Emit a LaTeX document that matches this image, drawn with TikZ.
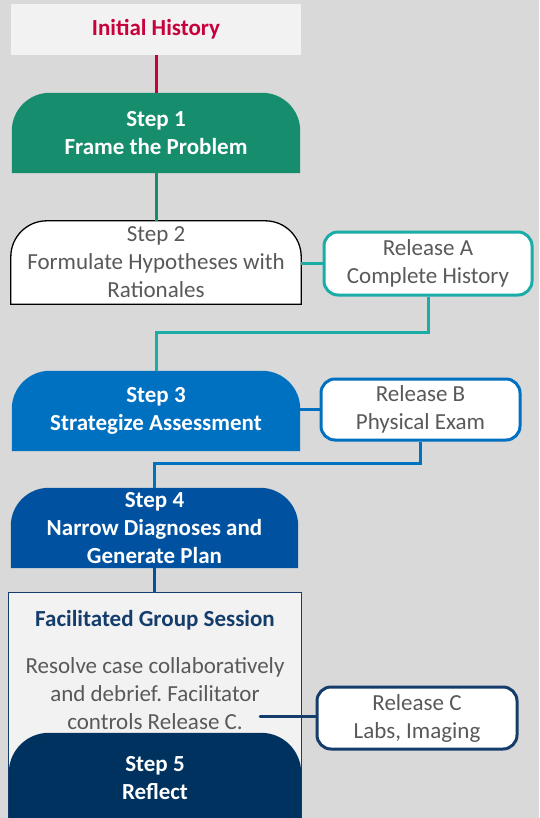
\documentclass[tikz,border=0pt]{standalone}
\usepackage{fontspec}
\setmainfont{Carlito}
\frenchspacing
\pgfdeclarelayer{bg}
\pgfdeclarelayer{mid}
\pgfsetlayers{bg,mid,main}
\definecolor{bgray}{HTML}{D9D9D9}
\definecolor{lgray}{HTML}{F2F2F2}
\definecolor{crim}{HTML}{C8003C}
\definecolor{sgreen}{HTML}{168E6E}
\definecolor{teal}{HTML}{1AADA8}
\definecolor{sblue}{HTML}{0070C0}
\definecolor{dblue}{HTML}{0052A0}
\definecolor{navy}{HTML}{00325F}
\definecolor{navyb}{HTML}{153D6B}
\definecolor{tgray}{HTML}{595959}
\tikzset{
  box/.style={inner sep=0pt, align=center, font=\fontsize{23}{28}\selectfont},
  stepbox/.style={box, text=white, font=\fontsize{23}{28}\selectfont\bfseries},
  relbox/.style={box, draw, line width=3pt, fill=white, rounded corners=14pt, text=tgray},
  conn/.style={line width=3pt},
}
\newcommand{\topround}[3]{% node, style, radius
  \begin{pgfonlayer}{mid}
  \path[#2] (#1.south west) [rounded corners=#3] -- (#1.north west) -- (#1.north east) [sharp corners] -- (#1.south east) -- cycle;
  \end{pgfonlayer}}
\begin{document}
\begin{tikzpicture}[x=1pt,y=1pt]
\begin{pgfonlayer}{bg}
\fill[bgray] (0,0) rectangle (539,-818);
\end{pgfonlayer}
\useasboundingbox (0,0) rectangle (539,-818);

\node[box, fill=lgray, minimum width=290pt, minimum height=51pt, text=crim, font=\fontsize{23}{28}\selectfont\bfseries] (init) at (156,-29.5) {Initial History};

\node[stepbox, minimum width=288pt, minimum height=80pt] (s1) at (156,-133) {Step 1\\Frame the Problem};
\topround{s1}{fill=sgreen}{38pt}

\node[box, text=tgray, minimum width=290pt, minimum height=83pt] (s2) at (156,-262.5) {Step 2\\Formulate Hypotheses with\\Rationales};
\topround{s2}{fill=white, draw=black, line width=1.3pt}{36pt}

\node[relbox, draw=teal, minimum width=208pt, minimum height=63pt] (relA) at (428,-263.5) {Release A\\Complete History};

\node[stepbox, minimum width=288pt, minimum height=80pt] (s3) at (156,-411) {Step 3\\Strategize Assessment};
\topround{s3}{fill=sblue}{38pt}

\node[relbox, draw=sblue, minimum width=199pt, minimum height=61pt] (relB) at (420.5,-409.5) {Release B\\Physical Exam};

\node[stepbox, minimum width=287pt, minimum height=80pt] (s4) at (154.5,-528) {Step 4\\Narrow Diagnoses and\\Generate Plan};
\topround{s4}{fill=dblue}{38pt}

\node[box, minimum width=292pt, minimum height=230pt] (fac) at (155,-708) {};
\begin{pgfonlayer}{mid}
\path[draw=navyb, line width=1.3pt, fill=lgray] (fac.south west) rectangle (fac.north east);
\end{pgfonlayer}
\node[box, text=navyb, font=\fontsize{23}{28}\selectfont\bfseries] (factitle) at (155,-620) {Facilitated Group Session};
\node[box, text=tgray] (facbody) at (155,-694) {Resolve case collaboratively\\and debrief. Facilitator\\controls Release C.};

\node[stepbox, minimum width=292pt, minimum height=90pt] (s5) at (155,-778) {Step 5\\Reflect};
\topround{s5}{fill=navy}{40pt}

\node[relbox, draw=navyb, minimum width=200pt, minimum height=62pt] (relC) at (417,-718) {Release C\\Labs, Imaging};

% connectors
\draw[conn, crim] (init.south) -- (s1.north);
\draw[conn, sgreen] (s1.south) -- (s2.north);
\draw[conn, teal] (s2.east |- relA.west) -- (relA.west);
\draw[conn, teal] (relA.south) -- ++(0,-36) -| (s3.north);
\draw[conn, sblue] (s3.east |- relB.west) -- (relB.west);
\draw[conn, sblue] (relB.south) -- ++(0,-22) -| (s4.north);
\draw[conn, dblue] (s4.south) -- (s4.south |- fac.north);
\coordinate (cstart) at (260,-716.5);
\draw[conn, navyb, line cap=round] (cstart) -- (cstart -| relC.west);
\end{tikzpicture}
\end{document}
